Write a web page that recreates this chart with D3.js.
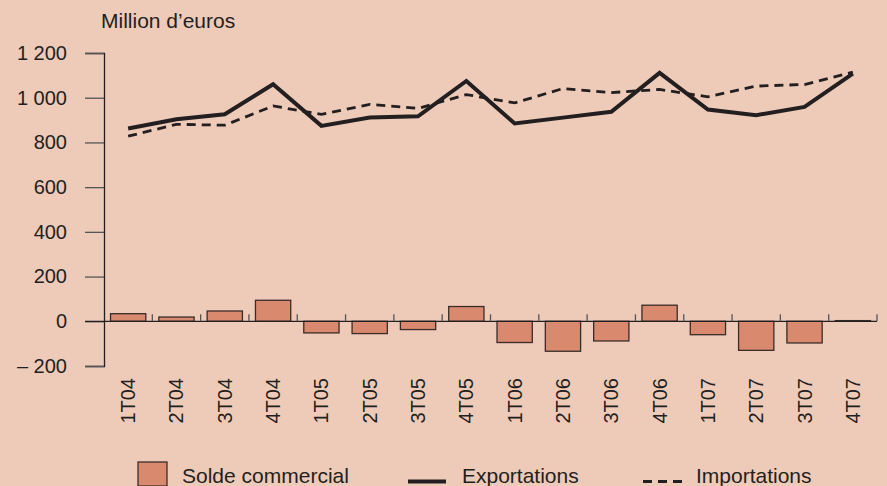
<!DOCTYPE html>
<html>
<head>
<meta charset="utf-8">
<script src="https://cdn.jsdelivr.net/npm/d3@7"></script>
<style>
  body { margin: 0; background: #eecab8; }
  svg { display: block; font-family: "Liberation Sans", Arial, sans-serif; }
</style>
</head>
<body>
<svg width="887" height="486"></svg>
<script>
(function (d3) {
  'use strict'

  const quarters = ['1T04', '2T04', '3T04', '4T04', '1T05', '2T05', '3T05', '4T05',
    '1T06', '2T06', '3T06', '4T06', '1T07', '2T07', '3T07', '4T07']
  const solde = [34, 19, 46, 94, -52, -55, -37, 66, -95, -134, -88, 72, -60, -130, -97, 3]
  const exportations = [862, 904, 926, 1060, 874, 911, 917, 1075, 885, 911, 937, 1111, 947, 922, 959, 1108]
  const importations = [828, 881, 877, 963, 926, 970, 952, 1014, 977, 1041, 1023, 1037, 1004, 1052, 1059, 1114]
  const yTicks = [-200, 0, 200, 400, 600, 800, 1000, 1200]

  const ink = '#231f20'
  const barFill = '#d98a6e'
  const svg = d3.select('svg')

  const x = d3.scaleBand().domain(quarters).range([104, 877]).paddingInner(0.27).paddingOuter(0.135)
  const y = d3.scaleLinear().domain([-200, 1200]).range([366, 53])

  // thousands split by a space, minus sign as an en dash
  const fmt = function (v) {
    const s = d3.format(',')(Math.abs(v)).replace(',', ' ')
    return (v < 0 ? '\u2013 ' : '') + s
  }

  // y axis
  const yAxis = svg.append('g').attr('transform', 'translate(104,0)').
    call(d3.axisLeft(y).tickValues(yTicks).tickSize(19).tickPadding(18).tickFormat(fmt))
  yAxis.select('.domain').attr('stroke', ink).attr('stroke-width', 1.3)
  yAxis.selectAll('.tick line').attr('stroke', '#555').attr('stroke-width', 1.3)
  yAxis.selectAll('.tick text').attr('fill', ink).attr('font-size', 20)

  svg.append('text').attr('x', 101).attr('y', 28).attr('fill', ink).attr('font-size', 21).
    text('Million d\u2019euros')

  // bars
  svg.append('g').selectAll('rect').
    data(quarters).
    enter().
    append('rect').
    attr('x', function (d) { return x(d) }).
    attr('width', x.bandwidth()).
    attr('y', function (d, i) { return y(Math.max(0, solde[i])) }).
    attr('height', function (d, i) { return Math.abs(y(solde[i]) - y(0)) }).
    attr('fill', barFill).
    attr('stroke', '#3a2c28').
    attr('stroke-width', 1.3)

  // zero baseline with small ticks at band boundaries
  svg.append('line').attr('x1', 85).attr('x2', 877).attr('y1', y(0)).attr('y2', y(0)).
    attr('stroke', ink).attr('stroke-width', 1.3)
  const step = x.step()
  const edge = function (d) { return x(d) - x.paddingOuter() * step + step }
  svg.append('g').selectAll('line').
    data(quarters).
    enter().
    append('line').
    attr('x1', edge).
    attr('x2', edge).
    attr('y1', y(0)).attr('y2', y(0) - 7).
    attr('stroke', '#555').attr('stroke-width', 1.3)

  // x labels
  svg.append('g').selectAll('text').
    data(quarters).
    enter().
    append('text').
    attr('transform', function (d) {
      return 'translate(' + (x(d) + x.bandwidth() / 2 + 7) + ',378) rotate(-90)'
    }).
    attr('text-anchor', 'end').
    attr('fill', ink).
    attr('font-size', 20).
    text(function (d) { return d })

  // lines
  const cx = function (d) { return x(d) + x.bandwidth() / 2 }
  const line = function (vals) {
    return d3.line().x(function (d) { return cx(d) }).y(function (d, i) { return y(vals[i]) })
  }
  svg.append('path').datum(quarters).attr('d', line(importations)).
    attr('fill', 'none').attr('stroke', ink).attr('stroke-width', 2.8).attr('stroke-dasharray', '9,6')
  svg.append('path').datum(quarters).attr('d', line(exportations)).
    attr('fill', 'none').attr('stroke', ink).attr('stroke-width', 4).attr('stroke-linejoin', 'miter')

  // legend (cut at the bottom edge, as in the source)
  const lg = svg.append('g').attr('class', 'legend')
  lg.append('rect').attr('x', 138).attr('y', 462).attr('width', 29).attr('height', 24).
    attr('fill', barFill).attr('stroke', '#3a2c28').attr('stroke-width', 1.3)
  lg.append('text').attr('x', 182).attr('y', 483).attr('font-size', 21).attr('fill', ink).text('Solde commercial')
  lg.append('line').attr('x1', 408).attr('x2', 446).attr('y1', 481.5).attr('y2', 481.5).
    attr('stroke', ink).attr('stroke-width', 4)
  lg.append('text').attr('x', 462).attr('y', 483).attr('font-size', 21).attr('fill', ink).text('Exportations')
  lg.append('line').attr('x1', 643).attr('x2', 682).attr('y1', 481.5).attr('y2', 481.5).
    attr('stroke', ink).attr('stroke-width', 2.8).attr('stroke-dasharray', '9,6')
  lg.append('text').attr('x', 696).attr('y', 483).attr('font-size', 21).attr('fill', ink).text('Importations')
}(d3))
</script>
</body>
</html>
